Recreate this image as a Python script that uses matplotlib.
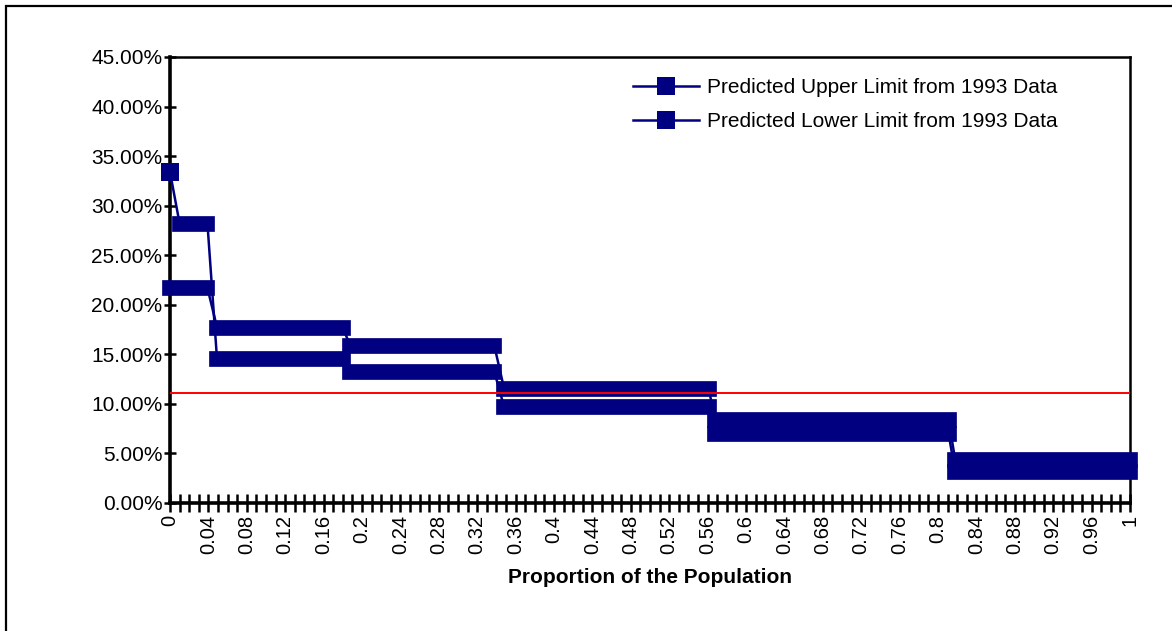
import matplotlib.pyplot as plt
import matplotlib.patches as patches
from matplotlib.ticker import MultipleLocator, FuncFormatter
from matplotlib.lines import Line2D

plt.rcParams['font.family'] = ['Liberation Sans', 'DejaVu Sans']

# step data: (start x, end x, value in %)
upper_start = [0.0, 0.010, 0.049, 0.188, 0.348, 0.568, 0.818]
upper_end = [0.0, 0.039, 0.180, 0.338, 0.561, 0.811, 1.000]
upper_vals = [33.4, 28.2, 14.5, 13.2, 9.7, 7.0, 3.1]

lower_start = [0.0, 0.049, 0.188, 0.348, 0.568, 0.818]
lower_end = [0.039, 0.180, 0.338, 0.561, 0.811, 1.000]
lower_vals = [21.7, 17.7, 15.8, 11.55, 8.4, 4.3]

reference_level = 11.1
series_labels = ['Predicted Upper Limit from 1993 Data',
                 'Predicted Lower Limit from 1993 Data']

navy = '#000080'
bar_w = 11.3      # width of the merged marker runs, points
marker_sz = 12.5  # single square marker, points

fig = plt.figure(figsize=(11.72, 6.31), dpi=100)
ax = fig.add_axes([170 / 1172, 1 - 503 / 631, 960 / 1172, 446 / 631])

# outer chart border (only top/left edge fall inside the picture)
fig.patches.append(patches.Rectangle((6 / 1172, -0.05), 1.2, 1 - 6 / 631 + 0.05,
                                     transform=fig.transFigure, fill=False,
                                     edgecolor='black', linewidth=1.6))


def draw_steps(starts, ends, vals):
    xs, ys = [], []
    for s, e, v in zip(starts, ends, vals):
        xs += [s, e]
        ys += [v / 100, v / 100]
    # thin connecting line through the series
    ax.plot(xs, ys, color=navy, linewidth=1.8, zorder=3, clip_on=False)
    # dense square markers merge into solid bars
    for s, e, v in zip(starts, ends, vals):
        if s == e:
            ax.plot([s], [v / 100], color=navy, marker='s', markersize=marker_sz,
                    markeredgewidth=0, zorder=4, clip_on=False)
        else:
            ax.plot([s, e], [v / 100, v / 100], color=navy, linewidth=bar_w,
                    solid_capstyle='projecting', zorder=4, clip_on=False)


draw_steps(upper_start, upper_end, upper_vals)
draw_steps(lower_start, lower_end, lower_vals)

ax.axhline(reference_level / 100, color='red', linewidth=1.4, zorder=5)

ax.set_xlim(0, 1)
ax.set_ylim(0, 0.45)
ax.xaxis.set_major_locator(MultipleLocator(0.04))
ax.xaxis.set_minor_locator(MultipleLocator(0.01))
ax.yaxis.set_major_locator(MultipleLocator(0.05))
ax.xaxis.set_major_formatter(FuncFormatter(lambda v, p: '%g' % round(v, 2)))
ax.yaxis.set_major_formatter(FuncFormatter(lambda v, p: '%.2f%%' % (v * 100)))

ax.tick_params(axis='x', which='both', direction='inout', length=13, width=1.8,
               labelsize=14.5, labelrotation=90, pad=2)
ax.tick_params(axis='y', which='major', direction='inout', length=9, width=1.8,
               labelsize=15, pad=1)
for sp in ax.spines.values():
    sp.set_linewidth(1.8)
ax.spines['left'].set_linewidth(2.6)
ax.spines['bottom'].set_linewidth(2.6)

ax.set_xlabel('Proportion of the Population', fontsize=15, fontweight='bold',
              labelpad=10)

handles = [Line2D([], [], color=navy, linewidth=1.8, marker='s',
                  markersize=marker_sz, markeredgewidth=0)
           for _ in series_labels]
ax.legend(handles, series_labels, loc='upper left', bbox_to_anchor=(0.482, 0.953),
          frameon=False, fontsize=15, handlelength=3.2, handletextpad=0.35,
          labelspacing=0.72, borderpad=0, borderaxespad=0)

fig.savefig('out.png', dpi=100)
